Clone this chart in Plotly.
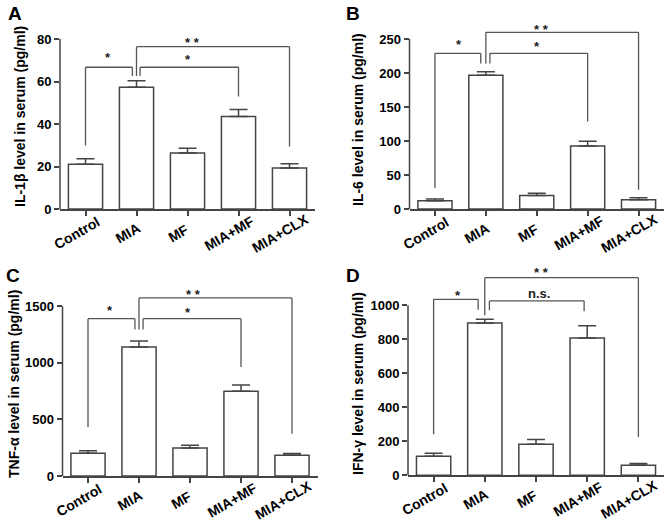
import plotly.graph_objects as go

W, H = 669, 525

categories = ["Control", "MIA", "MF", "MIA+MF", "MIA+CLX"]

# Panel A: IL-1beta
il1b_mean = [21.1, 57.3, 26.3, 43.5, 19.3]
il1b_err = [2.5, 3.0, 2.3, 3.3, 2.0]
il1b_ticks = [0, 20, 40, 60, 80]

# Panel B: IL-6
il6_mean = [12.2, 196.7, 20.0, 92.5, 13.7]
il6_err = [2.5, 5.3, 3.0, 7.3, 2.9]
il6_ticks = [0, 50, 100, 150, 200, 250]

# Panel C: TNF-alpha
tnf_mean = [200, 1140, 247, 748, 183]
tnf_err = [24, 53, 24, 56, 15]
tnf_ticks = [0, 500, 1000, 1500]

# Panel D: IFN-gamma
ifn_mean = [112, 896, 182, 808, 59]
ifn_err = [17, 22, 28, 72, 10]
ifn_ticks = [0, 200, 400, 600, 800, 1000]

# Significance brackets: (x_left, x_right, y_left_end, y_top, y_right_end, label, label_x, label_y)
brackets_A = [
    (0, 0.92, 29.9, 66.7, 62.6, "*", 0.45, 72.5),
    (1.07, 3.0, 62.6, 66.7, 52.9, "*", 2.0, 71.7),
    (1.0, 4.0, 62.6, 76.4, 29.4, "* *", 2.1, 79.8),
]
brackets_B = [
    (0, 0.9, 30.8, 229, 214, "*", 0.47, 246),
    (1.08, 3.0, 214, 229, 128.7, "*", 2.0, 243.6),
    (1.0, 4.0, 214, 259.8, 28.4, "* *", 2.1, 269),
]
brackets_C = [
    (0, 0.92, 433, 1391, 1294, "*", 0.43, 1488),
    (1.08, 3.0, 1294, 1391, 963.7, "*", 1.97, 1474),
    (1.0, 4.0, 1294, 1573.7, 374, "* *", 2.07, 1632.6),
]
brackets_D = [
    (0, 0.87, 241, 1035, 974.5, "*", 0.47, 1078),
    (1.09, 2.94, 970.6, 1025.5, 964.7, "n.s.", 2.06, 1068.6),
    (1.0, 4.0, 941, 1162.7, 225.5, "* *", 2.11, 1211.8),
]

titles = ["IL-1β level in serum (pg/ml)", "IL-6 level in serum (pg/ml)",
          "TNF-α level in serum (pg/ml)", "IFN-γ level in serum (pg/ml)"]
letters = ["A", "B", "C", "D"]

panels = [
    # means, errs, ticks, brackets, (x_left_px, x_right_px), (y0_px, ytick_top_px), range_top
    (il1b_mean, il1b_err, il1b_ticks, brackets_A, (60, 315), (209, 39), 86),
    (il6_mean, il6_err, il6_ticks, brackets_B, (409.5, 664), (209, 39), 285),
    (tnf_mean, tnf_err, tnf_ticks, brackets_C, (62.5, 317.5), (476, 306.3), 1690),
    (ifn_mean, ifn_err, ifn_ticks, brackets_D, (408, 664), (475.3, 305.3), 1260),
]
title_pos = [(20, 117), (358, 119), (14, 384), (358, 383)]
letter_pos = [(15, 14), (353, 13), (13, 275), (353, 275)]
XLABEL_DX = -0.17   # label centre offset from tick, in category units
XLABEL_DY = 24      # label centre below the x axis line, in px

FONT = "Arial, Liberation Sans, Helvetica, sans-serif"
LINE = "#444444"

fig = go.Figure()
layout = dict(
    width=W, height=H, margin=dict(l=0, r=0, t=0, b=0, autoexpand=False),
    paper_bgcolor="white", plot_bgcolor="white", showlegend=False,
    font=dict(family=FONT, color="black"),
)
shapes = []
annotations = []

for i, (means, errs, ticks, brs, (xl, xr), (y0px, ytpx), rtop) in enumerate(panels):
    n = "" if i == 0 else str(i + 1)
    xa, ya = "x" + n, "y" + n
    px_per_unit = (y0px - ytpx) / ticks[-1]
    top_px = y0px - rtop * px_per_unit
    fig.add_trace(go.Bar(
        x=list(range(len(categories))), y=means, width=0.67,
        marker=dict(color="white", line=dict(color=LINE, width=1.5)),
        error_y=dict(type="data", symmetric=False, array=errs,
                     arrayminus=[0] * len(errs), color=LINE, thickness=1.5, width=9),
        xaxis=xa, yaxis=ya, hoverinfo="skip",
    ))
    layout["xaxis" + n] = dict(
        domain=[xl / W, xr / W], anchor=ya, range=[-0.5, 4.5], automargin=False,
        tickvals=list(range(len(categories))), showticklabels=False,
        showline=True, linecolor=LINE, linewidth=1.5, ticks="outside",
        ticklen=5, tickwidth=1.5, tickcolor=LINE, showgrid=False, zeroline=False,
    )
    layout["yaxis" + n] = dict(
        domain=[1 - y0px / H, 1 - top_px / H], anchor=xa, range=[0, rtop],
        automargin=False,
        tickvals=ticks, showline=False, ticks="outside", ticklen=5, tickwidth=1.5,
        tickcolor=LINE, showgrid=False, zeroline=False,
        tickfont=dict(family=FONT, size=13, color="black", weight=700),
    )
    # y axis line up to top tick
    shapes.append(dict(type="line", xref=xa + " domain", yref=ya, x0=0, x1=0,
                       y0=0, y1=ticks[-1], line=dict(color=LINE, width=1.5)))
    for (bxl, bxr, byl, byt, byr, lab, lx, ly) in brs:
        for (x0, y0_, x1, y1_) in [(bxl, byl, bxl, byt), (bxl, byt, bxr, byt), (bxr, byt, bxr, byr)]:
            shapes.append(dict(type="line", xref=xa, yref=ya, x0=x0, y0=y0_, x1=x1, y1=y1_,
                               line=dict(color="#555555", width=1.3)))
        isns = lab == "n.s."
        annotations.append(dict(
            x=lx, y=ly, xref=xa, yref=ya, text=lab, showarrow=False,
            yshift=0 if isns else -3,
            font=dict(family=FONT, size=13, color="#222222", weight=700),
        ))
    # rotated category labels
    for k, cat in enumerate(categories):
        annotations.append(dict(
            x=k + XLABEL_DX, y=1 - (y0px + XLABEL_DY) / H, xref=xa, yref="paper",
            text=cat, textangle=-30, showarrow=False, xanchor="center", yanchor="middle",
            font=dict(family=FONT, size=14, color="black", weight=700),
        ))
    tx, ty = title_pos[i]
    annotations.append(dict(
        x=tx / W, y=1 - ty / H, xref="paper", yref="paper", text=titles[i],
        textangle=-90, showarrow=False, xanchor="center", yanchor="middle",
        font=dict(family=FONT, size=14, color="black", weight=700),
    ))
    lx_, ly_ = letter_pos[i]
    annotations.append(dict(
        x=lx_ / W, y=1 - ly_ / H, xref="paper", yref="paper", text=letters[i],
        showarrow=False, xanchor="center", yanchor="middle",
        font=dict(family=FONT, size=19, color="black", weight=700),
    ))

layout["shapes"] = shapes
layout["annotations"] = annotations
fig.update_layout(**layout)
fig.write_html(
    "out.html",
    config={"displayModeBar": False},
    post_script="document.body.style.margin='0';document.body.style.overflow='hidden';",
)
